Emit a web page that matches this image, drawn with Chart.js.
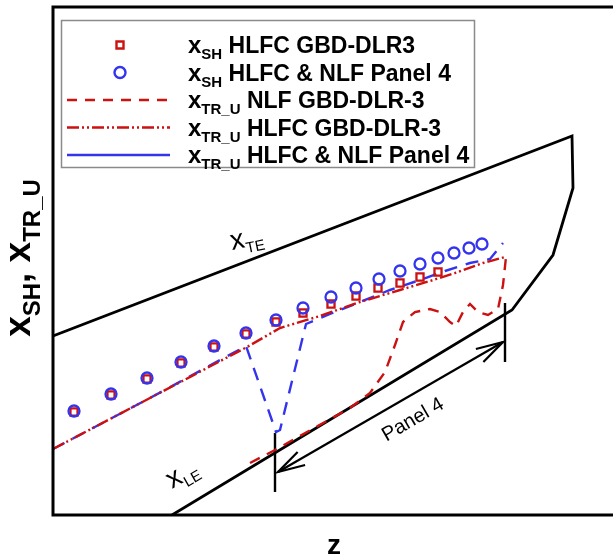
<!DOCTYPE html>
<html><head><meta charset="utf-8">
<script src="https://cdn.jsdelivr.net/npm/chart.js@4"></script>
<style>html,body{margin:0;padding:0;background:#fff}#wrap{width:613px;height:558px}</style>
</head><body><div id="wrap"><canvas id="c" width="613" height="558"></canvas></div>
<script>
// ---- data (z, x) ----
const xshHLFC_GBD = [
  {x:21,y:103},{x:58,y:120},{x:94,y:136},{x:128,y:152},{x:161,y:168},{x:193,y:181},{x:223,y:193},
  {x:250,y:202},{x:278,y:211},{x:303,y:219},{x:325,y:227},{x:347,y:232},{x:367,y:238},{x:385,y:243}
];
const xshPanel4 = [
  {x:21,y:104},{x:58,y:121},{x:94,y:137},{x:128,y:153},{x:161,y:169},{x:193,y:182},{x:223,y:195},
  {x:250,y:207},{x:278,y:218},{x:303,y:227},{x:326,y:236},{x:347,y:244},{x:367,y:251},{x:385,y:257},
  {x:401,y:262},{x:416,y:267},{x:429,y:271}
];
const xtrNLF_GBD = [
  {x:197,y:52},{x:222,y:65},{x:247,y:79},{x:272,y:93},{x:297,y:107},{x:317,y:122},{x:332,y:143},
  {x:342,y:170},{x:350,y:193},{x:362,y:203},{x:377,y:206},{x:387,y:203},{x:397,y:193},{x:403,y:189},
  {x:410,y:203},{x:417,y:211},{x:425,y:203},{x:435,y:200},{x:445,y:206},{x:450,y:230},{x:453,y:258}
];
const xtrHLFC_GBD = [
  {x:0,y:66},{x:97,y:117},{x:194,y:168},{x:227,y:187},{x:267,y:199},{x:307,y:213},{x:347,y:225},
  {x:377,y:234},{x:402,y:242},{x:430,y:252},{x:452,y:258}
];
const xtrPanel4 = [
  {x:0,y:66},{x:97,y:117},{x:193,y:169},{x:223,y:83},{x:227,y:85},{x:253,y:191},{x:277,y:201},
  {x:307,y:213},{x:337,y:225},{x:367,y:235},{x:392,y:244},{x:417,y:252},{x:437,y:256},{x:450,y:272}
];
const wingOutline = [{x:0,y:179},{x:519,y:379},{x:520,y:327},{x:500,y:260},{x:459,y:205},{x:119,y:0}];
const panelInnerEdge = [{x:222,y:82},{x:222,y:23}];
const panelOuterEdge = [{x:452,y:212},{x:452,y:153}];
const panelArrow = [{x:225,y:43},{x:450,y:173}];

// ---- texts ----
const legendMain = ['x','x','x','x','x'];
const legendSub = ['SH','SH','TR_U','TR_U','TR_U'];
const legendText = [' HLFC GBD-DLR3',' HLFC & NLF Panel 4',' NLF GBD-DLR-3',' HLFC GBD-DLR-3',' HLFC & NLF Panel 4'];
const xAxisTitle = 'z';
const yAxisTitle = [['x','SH'],[', ',''],['x','TR_U']];
const teLabel = ['x','TE'];
const leLabel = ['x','LE'];
const panelLabel = 'Panel 4';

const RED = '#cc1111', BLUE = '#3434ee';
const FF = "'Liberation Sans', Arial, sans-serif";

function drawSubText(ctx, x, y, parts, mainFont, subFont, subDy, align) {
  let w = 0;
  parts.forEach(([m, s]) => { ctx.font = mainFont; w += ctx.measureText(m).width; ctx.font = subFont; w += ctx.measureText(s).width; });
  let cx = align === 'center' ? x - w / 2 : x;
  ctx.textAlign = 'left'; ctx.textBaseline = 'alphabetic';
  parts.forEach(([m, s]) => {
    ctx.font = mainFont; ctx.fillText(m, cx, y); cx += ctx.measureText(m).width;
    ctx.font = subFont; ctx.fillText(s, cx, y + subDy); cx += ctx.measureText(s).width;
  });
  return cx;
}

const overlay = {
  id: 'overlay',
  afterDraw(chart) {
    const {ctx, chartArea: a, scales: {x: X, y: Y}} = chart;
    const px = v => X.getPixelForValue(v), py = v => Y.getPixelForValue(v);
    ctx.save();
    ctx.fillStyle = '#000'; ctx.strokeStyle = '#000';
    ctx.lineWidth = 3; ctx.setLineDash([]);
    ctx.beginPath();
    ctx.moveTo(a.right + 2, a.top); ctx.lineTo(a.left, a.top); ctx.lineTo(a.left, a.bottom); ctx.lineTo(a.right + 2, a.bottom);
    ctx.stroke();
    // arrow heads
    ctx.lineWidth = 2.2;
    const p0 = {x: px(panelArrow[0].x), y: py(panelArrow[0].y)};
    const p1 = {x: px(panelArrow[1].x), y: py(panelArrow[1].y)};
    [[p0, p1], [p1, p0]].forEach(([tip, from]) => {
      const ang = Math.atan2(tip.y - from.y, tip.x - from.x);
      const L = 28, th = 0.27;
      ctx.beginPath();
      ctx.moveTo(tip.x - L * Math.cos(ang - th), tip.y - L * Math.sin(ang - th));
      ctx.lineTo(tip.x, tip.y);
      ctx.lineTo(tip.x - L * Math.cos(ang + th), tip.y - L * Math.sin(ang + th));
      ctx.stroke();
    });
    // Panel 4 label
    ctx.save();
    ctx.translate(413, 420); ctx.rotate(-0.524);
    ctx.font = '20px ' + FF; ctx.textAlign = 'center'; ctx.textBaseline = 'middle';
    ctx.fillText(panelLabel, 0, 0);
    ctx.restore();
    // TE label
    ctx.save();
    ctx.translate(232, 250); ctx.rotate(-0.2);
    drawSubText(ctx, 0, 0, [teLabel], '28px ' + FF, '15px ' + FF, 6, 'left');
    ctx.restore();
    // LE label
    ctx.save();
    ctx.translate(172, 489); ctx.rotate(-0.52);
    drawSubText(ctx, 0, 0, [leLabel], '28px ' + FF, '15px ' + FF, 6, 'left');
    ctx.restore();
    // axis titles
    drawSubText(ctx, 334, 554, [[xAxisTitle, '']], 'bold 28px ' + FF, 'bold 16px ' + FF, 0, 'center');
    ctx.save();
    ctx.translate(30, 258); ctx.rotate(-Math.PI / 2);
    drawSubText(ctx, 0, 0, yAxisTitle, 'bold 37px ' + FF, 'bold 24px ' + FF, 10, 'center');
    ctx.restore();
    // legend box
    ctx.fillStyle = '#fff';
    ctx.fillRect(61, 20, 414, 148);
    ctx.strokeStyle = '#8a8a8a'; ctx.lineWidth = 1.5;
    ctx.strokeRect(61.5, 20.5, 413, 147);
    const rowY = [45, 72.5, 100, 127.5, 155];
    ctx.lineWidth = 2.4;
    ctx.strokeStyle = RED; ctx.beginPath(); ctx.rect(116.5, rowY[0] - 3.5, 7, 7); ctx.stroke();
    ctx.strokeStyle = BLUE; ctx.beginPath(); ctx.arc(120, rowY[1], 5.5, 0, Math.PI * 2); ctx.stroke();
    const lineSty = [[RED, [10, 8]], [RED, [12, 3, 2, 3, 2, 3]], [BLUE, []]];
    ctx.lineWidth = 2.4;
    lineSty.forEach(([c, d], i) => {
      ctx.strokeStyle = c; ctx.setLineDash(d); ctx.beginPath();
      ctx.moveTo(67, rowY[i + 2]); ctx.lineTo(170, rowY[i + 2]); ctx.stroke();
    });
    ctx.setLineDash([]);
    ctx.fillStyle = '#000';
    rowY.forEach((yy, i) => {
      const end = drawSubText(ctx, 188, yy + 8, [[legendMain[i], legendSub[i]]], 'bold 24px ' + FF, 'bold 15px ' + FF, 6, 'left');
      ctx.font = 'bold 23px ' + FF; ctx.fillText(legendText[i], end, yy + 8);
    });
    ctx.restore();
  }
};

const lineDs = (label, data, color, dash, width) => ({
  label, data, borderColor: color, borderDash: dash, borderWidth: width,
  showLine: true, pointRadius: 0, fill: false, tension: 0
});

new Chart(document.getElementById('c'), {
  type: 'scatter',
  data: {
    datasets: [
      {label: 'xSH HLFC & NLF Panel 4', data: xshPanel4, showLine: false, pointStyle: 'circle', pointRadius: 5.5,
       borderColor: BLUE, backgroundColor: 'rgba(0,0,0,0)', pointBorderWidth: 2.3},
      {label: 'xSH HLFC GBD-DLR3', data: xshHLFC_GBD, showLine: false, pointStyle: 'rect', pointRadius: 5,
       borderColor: RED, backgroundColor: 'rgba(0,0,0,0)', pointBorderWidth: 2.3},
      lineDs('xTR_U HLFC GBD-DLR-3', xtrHLFC_GBD, RED, [12, 3, 2, 3, 2, 3], 2.4),
      lineDs('xTR_U HLFC & NLF Panel 4', xtrPanel4, BLUE, [13, 9], 2.4),
      lineDs('xTR_U NLF GBD-DLR-3', xtrNLF_GBD, RED, [11, 8], 2.4),
      lineDs('outline', wingOutline, '#000', [], 2.8),
      lineDs('panel inner', panelInnerEdge, '#000', [], 2.4),
      lineDs('panel outer', panelOuterEdge, '#000', [], 2.4),
      lineDs('panel arrow', panelArrow, '#000', [], 2.2)
    ]
  },
  options: {
    responsive: false, animation: false, devicePixelRatio: 1,
    layout: {autoPadding: false, padding: {left: 53, top: 7, right: 0, bottom: 43}},
    scales: {
      x: {type: 'linear', min: 0, max: 560, display: false},
      y: {type: 'linear', min: 0, max: 508, display: false}
    },
    plugins: {legend: {display: false}, tooltip: {enabled: false}}
  },
  plugins: [overlay]
});
</script>
</body></html>
